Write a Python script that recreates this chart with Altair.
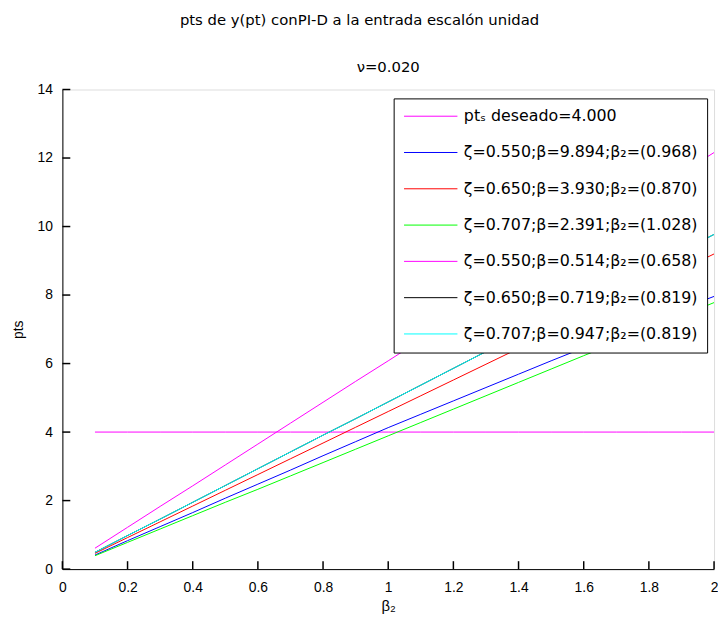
import altair as alt
import pandas as pd

FONT = "Liberation Sans, Arial, Helvetica, sans-serif"
WIDE = "DejaVu Sans, Verdana, sans-serif"

beta2 = [0.1, 0.2, 0.3, 0.4, 0.5, 0.6, 0.7, 0.8, 0.9, 1.0,
         1.1, 1.2, 1.3, 1.4, 1.5, 1.6, 1.7, 1.8, 1.9, 2.0]

pts_desired = [4.0, 4.0, 4.0, 4.0, 4.0, 4.0, 4.0, 4.0, 4.0, 4.0,
               4.0, 4.0, 4.0, 4.0, 4.0, 4.0, 4.0, 4.0, 4.0, 4.0]
pts_z550_b9894 = [0.41, 0.83, 1.24, 1.65, 2.07, 2.48, 2.89, 3.31, 3.72, 4.13,
                  4.52, 4.91, 5.30, 5.69, 6.08, 6.46, 6.84, 7.22, 7.60, 7.96]
pts_z650_b3930 = [0.46, 0.92, 1.38, 1.84, 2.30, 2.76, 3.22, 3.68, 4.14, 4.60,
                  5.06, 5.52, 5.98, 6.44, 6.90, 7.36, 7.82, 8.28, 8.74, 9.20]
pts_z707_b2391 = [0.39, 0.78, 1.17, 1.56, 1.95, 2.33, 2.72, 3.11, 3.50, 3.89,
                  4.28, 4.67, 5.06, 5.45, 5.84, 6.23, 6.61, 7.00, 7.39, 7.78]
pts_z550_b0514 = [0.61, 1.22, 1.83, 2.43, 3.04, 3.65, 4.26, 4.87, 5.48, 6.08,
                  6.69, 7.30, 7.91, 8.52, 9.12, 9.73, 10.34, 10.95, 11.56, 12.16]
pts_z650_b0719 = [0.49, 0.98, 1.46, 1.95, 2.44, 2.93, 3.42, 3.91, 4.39, 4.88,
                  5.37, 5.86, 6.35, 6.84, 7.32, 7.81, 8.30, 8.79, 9.28, 9.77]
pts_z707_b0947 = [0.49, 0.98, 1.46, 1.95, 2.44, 2.93, 3.42, 3.91, 4.39, 4.88,
                  5.37, 5.86, 6.35, 6.84, 7.32, 7.81, 8.30, 8.79, 9.28, 9.77]

labels = [
    "ptₛ deseado=4.000",
    "ζ=0.550;β=9.894;β₂=(0.968)",
    "ζ=0.650;β=3.930;β₂=(0.870)",
    "ζ=0.707;β=2.391;β₂=(1.028)",
    "ζ=0.550;β=0.514;β₂=(0.658)",
    "ζ=0.650;β=0.719;β₂=(0.819)",
    "ζ=0.707;β=0.947;β₂=(0.819)",
]
colors = ["#ff00ff", "#0000ff", "#ff0000", "#00ff00", "#ff00ff", "#000000", "#00ffff"]
series = [pts_desired, pts_z550_b9894, pts_z650_b3930, pts_z707_b2391,
          pts_z550_b0514, pts_z650_b0719, pts_z707_b0947]

x_ticks = [0, 0.2, 0.4, 0.6, 0.8, 1, 1.2, 1.4, 1.6, 1.8, 2]
y_ticks = [0, 2, 4, 6, 8, 10, 12, 14]

title_text = "pts de y(pt) conPI-D a la entrada escalón unidad"
subtitle_text = "ν=0.020"

PLOT_W, PLOT_H, TICK_LEN = 659, 485, 8

rows = []
for lab, vals in zip(labels, series):
    for xv, yv in zip(beta2, vals):
        rows.append({"serie": lab, "beta2": xv, "pts": yv})
df = pd.DataFrame(rows)

xscale = alt.Scale(domain=[0, 2], nice=False, zero=False)
yscale = alt.Scale(domain=[0, 14], nice=False, zero=False)

x_axis = alt.Axis(orient="bottom", values=x_ticks, format="~g", grid=False,
                  domain=True, domainColor="black", domainWidth=1,
                  ticks=False, labelFontSize=14, labelFont=FONT, labelColor="black",
                  labelPadding=12, title="β₂", titleFontSize=15, titleFont=FONT,
                  titleFontWeight="normal", titleColor="black", titlePadding=4,
                  labelFlush=False)
y_axis = alt.Axis(orient="left", values=y_ticks, grid=False,
                  domain=True, domainColor="black", domainWidth=1,
                  ticks=False, labelFontSize=14, labelFont=FONT, labelColor="black",
                  labelPadding=10, title="pts", titleFontSize=14, titleFont=FONT,
                  titleFontWeight="normal", titleColor="black", titlePadding=12)

legend = alt.Legend(orient="none", legendX=335, legendY=9, fillColor="white",
                    strokeColor="black", padding=9, symbolType="stroke",
                    symbolSize=2916, symbolStrokeWidth=1, symbolOffset=1,
                    clipHeight=18, labelFontSize=16, labelFont=WIDE,
                    labelColor="black", rowPadding=18.7, labelOffset=6,
                    labelLimit=400)

color_scale = alt.Scale(domain=labels, range=colors)

layers = []
for i, lab in enumerate(labels):
    color = alt.Color("serie:N", scale=color_scale, sort=labels, title=None,
                      legend=legend if i == 0 else None)
    layer = alt.Chart(df).mark_line(strokeWidth=1, clip=True).encode(
        x=alt.X("beta2:Q", scale=xscale, axis=x_axis),
        y=alt.Y("pts:Q", scale=yscale, axis=y_axis),
        color=color,
    ).transform_filter(alt.FieldEqualPredicate(field="serie", equal=lab))
    layers.append(layer)

# inward tick marks (MATLAB style), tick values placed through the chart's scales
yt_df = pd.DataFrame({"tick": y_ticks})
xt_df = pd.DataFrame({"tick": x_ticks})
y_tick_marks = alt.Chart(yt_df).mark_rule(color="#000000", strokeWidth=1.5, opacity=1).encode(
    y=alt.Y("tick:Q", scale=yscale, axis=y_axis),
    y2=alt.Y2("tick:Q"),
    x=alt.value(0),
    x2=alt.value(TICK_LEN),
)
x_tick_marks = alt.Chart(xt_df).mark_rule(color="#000000", strokeWidth=1.5, opacity=1).encode(
    x=alt.X("tick:Q", scale=xscale, axis=x_axis),
    x2=alt.X2("tick:Q"),
    y=alt.value(PLOT_H),
    y2=alt.value(PLOT_H - TICK_LEN),
)
sub_df = pd.DataFrame({"txt": [subtitle_text]})
subtitle_mark = alt.Chart(sub_df).mark_text(
    font=WIDE, fontSize=15, color="black", dy=-23, baseline="middle", align="center"
).encode(
    text="txt:N",
    x=alt.X(datum=1, scale=xscale, axis=x_axis),
    y=alt.Y(datum=14, scale=yscale, axis=y_axis),
)
layers += [y_tick_marks, x_tick_marks, subtitle_mark]

chart = alt.layer(*layers).properties(
    width=PLOT_W,
    height=PLOT_H,
    padding={"left": 55, "top": 79, "right": 4, "bottom": 44},
    autosize=alt.AutoSizeParams(type="none"),
    title=alt.TitleParams(
        text=title_text,
        fontSize=15, font=WIDE, fontWeight="normal", color="black",
        anchor="middle", offset=32, dx=-29,
    ),
).configure_view(stroke=None).configure(background="white")

chart.save("out.html", embed_options={"renderer": "svg", "actions": False})
